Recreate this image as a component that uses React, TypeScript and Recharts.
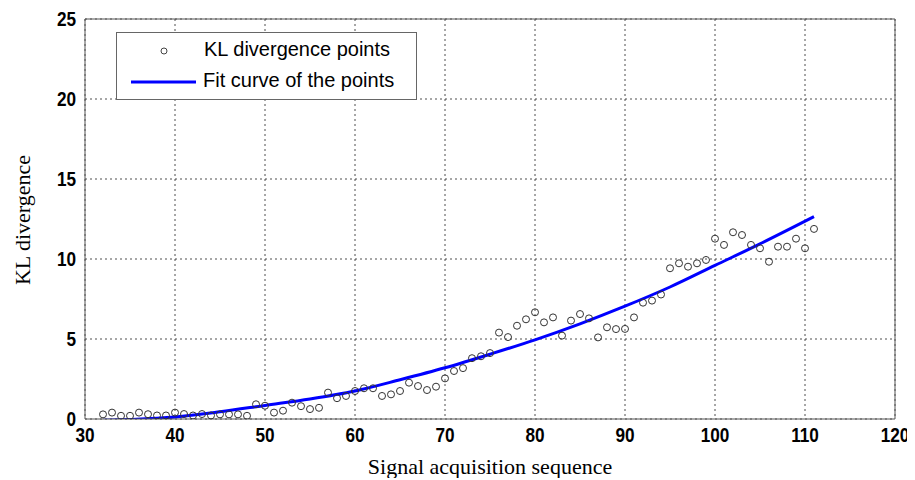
import React from "react";
import {
  ComposedChart,
  Scatter,
  Line,
  XAxis,
  YAxis,
  CartesianGrid,
  ReferenceLine,
  Legend,
} from "recharts";

// acquisition sequence index for each measured point
const SEQ = [
  32, 33, 34, 35, 36, 37, 38, 39, 40, 41, 42, 43, 44, 45, 46, 47, 48, 49, 50, 51,
  52, 53, 54, 55, 56, 57, 58, 59, 60, 61, 62, 63, 64, 65, 66, 67, 68, 69, 70, 71,
  72, 73, 74, 75, 76, 77, 78, 79, 80, 81, 82, 83, 84, 85, 86, 87, 88, 89, 90, 91,
  92, 93, 94, 95, 96, 97, 98, 99, 100, 101, 102, 103, 104, 105, 106, 107, 108, 109, 110, 111,
];

// KL divergence of each acquisition
const KL = [
  0.29, 0.4, 0.2, 0.2, 0.4, 0.3, 0.22, 0.22, 0.4, 0.31, 0.22, 0.31, 0.22, 0.29, 0.29, 0.29, 0.2, 0.92, 0.83, 0.4,
  0.52, 1.02, 0.8, 0.62, 0.7, 1.65, 1.3, 1.44, 1.75, 1.92, 1.92, 1.44, 1.54, 1.75, 2.27, 2.06, 1.81, 2.02, 2.54, 3.0,
  3.18, 3.8, 3.92, 4.12, 5.4, 5.12, 5.83, 6.23, 6.67, 6.04, 6.35, 5.21, 6.15, 6.56, 6.29, 5.1, 5.73, 5.62, 5.63, 6.35,
  7.27, 7.4, 7.78, 9.42, 9.73, 9.52, 9.73, 9.94, 11.27, 10.88, 11.67, 11.5, 10.88, 10.67, 9.83, 10.77, 10.77, 11.27, 10.67, 11.88,
];

// fitted curve, sampled along the sequence
const FIT_X = [32, 35, 40, 45, 50, 55, 60, 65, 70, 75, 80, 85, 90, 95, 100, 105, 111];
const FIT_Y = [-0.08, -0.03, 0.12, 0.45, 0.85, 1.25, 1.75, 2.45, 3.2, 4.05, 4.95, 5.95, 7.05, 8.25, 9.6, 10.95, 12.65];

const X_TICKS = [30, 40, 50, 60, 70, 80, 90, 100, 110, 120];
const Y_TICKS = [0, 5, 10, 15, 20, 25];

const points = SEQ.map((x, i) => ({ x, kl: KL[i] }));
const fit = FIT_X.map((x, i) => ({ x, fit: FIT_Y[i] }));

const serif = "'Liberation Serif', 'Times New Roman', serif";
const sans = "'Liberation Sans', Arial, sans-serif";

// bold, slightly condensed tick numbers
const XTick = (props: any) => {
  const { x, y, payload } = props;
  return (
    <text
      x={0}
      y={0}
      transform={`translate(${x} ${y + 15}) scale(0.86 1)`}
      textAnchor="middle"
      fontFamily={sans}
      fontWeight={700}
      fontSize={20}
      fill="#000"
    >
      {payload.value}
    </text>
  );
};

const YTick = (props: any) => {
  const { x, y, payload } = props;
  return (
    <text
      x={0}
      y={0}
      transform={`translate(${x - 1} ${y + 7}) scale(0.86 1)`}
      textAnchor="end"
      fontFamily={sans}
      fontWeight={700}
      fontSize={20}
      fill="#000"
    >
      {payload.value}
    </text>
  );
};

const OpenCircle = (props: any) => (
  <circle cx={props.cx} cy={props.cy} r={3.5} fill="none" stroke="#333" strokeWidth={1} />
);

const LegendBox = () => (
  <div
    style={{
      width: 299,
      height: 66,
      border: "1px solid #666",
      background: "#fff",
      position: "relative",
      fontFamily: sans,
      fontSize: 20,
      color: "#000",
    }}
  >
    <svg width={90} height={66} style={{ position: "absolute", left: 0, top: 0 }}>
      <circle cx={47} cy={18} r={3} fill="none" stroke="#444" strokeWidth={1} />
      <line x1={14} y1={49} x2={79} y2={49} stroke="#0000ff" strokeWidth={3} />
    </svg>
    <div style={{ position: "absolute", left: 87, top: 5 }}>KL divergence points</div>
    <div style={{ position: "absolute", left: 86, top: 36 }}>Fit curve of the points</div>
  </div>
);

export default function App() {
  return (
    <div style={{ width: 907, height: 472 }}>
      <ComposedChart width={907} height={470} margin={{ top: 11, right: 20, left: 0, bottom: 0 }}>
        <CartesianGrid stroke="#222" strokeDasharray="2 3" strokeWidth={0.8} />
        <XAxis
          type="number"
          dataKey="x"
          domain={[30, 120]}
          ticks={X_TICKS}
          height={59}
          stroke="#555"
          tickLine={false}
          tick={XTick}
          label={{
            content: () => (
              <text x={482} y={458} textAnchor="middle" dominantBaseline="central" fontFamily={serif} fontSize={22} fill="#000">
                Signal acquisition sequence
              </text>
            ),
          }}
        />
        <YAxis
          type="number"
          domain={[0, 25]}
          ticks={Y_TICKS}
          allowDataOverflow
          width={77}
          stroke="#555"
          tickLine={false}
          tick={YTick}
          label={{
            content: () => (
              <text
                x={14}
                y={212}
                transform="rotate(-90 14 212)"
                textAnchor="middle"
                dominantBaseline="central"
                fontFamily={serif}
                fontSize={22}
                fill="#000"
              >
                KL divergence
              </text>
            ),
          }}
        />
        <ReferenceLine x={120} stroke="#555" />
        <ReferenceLine y={25} stroke="#555" />
        <Scatter data={points} dataKey="kl" shape={OpenCircle} isAnimationActive={false} />
        <Line
          data={fit}
          dataKey="fit"
          type="monotone"
          stroke="#0000ff"
          strokeWidth={3}
          dot={false}
          isAnimationActive={false}
        />
        <Legend
          layout="horizontal"
          verticalAlign="middle"
          align="center"
          content={LegendBox}
          wrapperStyle={{ position: "absolute", left: 108, top: 24, width: 301 }}
        />
      </ComposedChart>
    </div>
  );
}
